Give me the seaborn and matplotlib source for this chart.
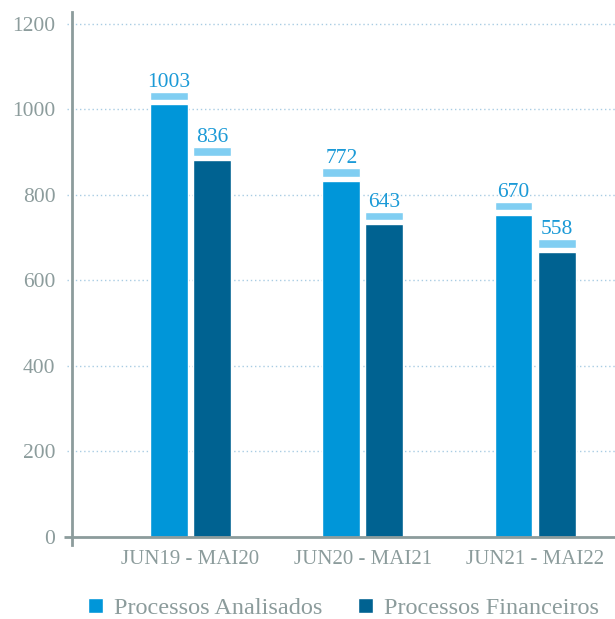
import matplotlib
matplotlib.use("Agg")
import matplotlib.pyplot as plt
import matplotlib.patches as mpatches
import seaborn as sns
import pandas as pd
import numpy as np

# ---- data ----
periodos = ["JUN19 - MAI20", "JUN20 - MAI21", "JUN21 - MAI22"]
series = ["Processos Analisados", "Processos Financeiros"]
# bar heights as drawn in the picture
analisados_barra = [1013, 833, 754]
financeiros_barra = [882, 732, 667]
# value labels printed above the bars
analisados_rotulo = [1003, 772, 670]
financeiros_rotulo = [836, 643, 558]
yticks = [0, 200, 400, 600, 800, 1000, 1200]

# ---- style ----
sns.set_theme(style="white")
plt.rcParams["font.family"] = ["Liberation Serif", "DejaVu Serif"]
cor_clara = "#0096D9"
cor_escura = "#006291"
cor_topo = "#80CEF2"
cor_texto = "#8C9C9C"
cor_rotulo = "#1B9AD7"
cor_grade = "#A9CCE3"

df = pd.DataFrame({
    "periodo": periodos * 2,
    "serie": [series[0]] * 3 + [series[1]] * 3,
    "valor": analisados_barra + financeiros_barra,
})
rotulos = {series[0]: analisados_rotulo, series[1]: financeiros_rotulo}

fig = plt.figure(figsize=(6.15, 6.19), dpi=100)
ax = fig.add_axes([72 / 615, 74 / 619, 543 / 615, 533 / 619])

sns.barplot(data=df, x="periodo", y="valor", hue="serie", hue_order=series,
            palette=[cor_clara, cor_escura], saturation=1, width=0.5, gap=0.12,
            legend=False, ax=ax, zorder=2)

cap_gap = 10
cap_h = 19
for cont, serie in zip(ax.containers, series):
    for p, lab in zip(cont.patches, rotulos[serie]):
        base = p.get_height() + cap_gap
        ax.bar(p.get_x(), cap_h, bottom=base, width=p.get_width(), align="edge",
               color=cor_topo, zorder=2)
        ax.annotate(str(lab), (p.get_x() + p.get_width() / 2, base + cap_h),
                    xytext=(0, 3.6), textcoords="offset points",
                    ha="center", va="baseline", fontsize=15.5, color=cor_rotulo)

ax.set_xlim(-0.688, 2.464)
ax.set_ylim(-19, 1228)
ax.set_yticks(yticks)
ax.set_xlabel("")
ax.set_ylabel("")

for s in ["top", "right", "bottom"]:
    ax.spines[s].set_visible(False)
ax.spines["left"].set_color(cor_texto)
ax.spines["left"].set_linewidth(2)

# dotted grid
ax.hlines(yticks[1:], -5 / 543, 1, transform=ax.get_yaxis_transform(),
          colors=cor_grade, linestyles=(0, (1, 2)), linewidth=1, clip_on=False, zorder=1)
# zero line
ax.hlines([0], -8 / 543, 1, transform=ax.get_yaxis_transform(),
          colors=cor_texto, linewidth=2, clip_on=False, zorder=3)

ax.tick_params(axis="y", length=0, pad=12, labelsize=15.5, labelcolor=cor_texto)
ax.tick_params(axis="x", length=0, pad=3.5, labelsize=15, labelcolor=cor_texto)

handles = [mpatches.Patch(facecolor=c, label=s) for c, s in zip([cor_clara, cor_escura], series)]
fig.legend(handles=handles, loc="lower center", bbox_to_anchor=((72 + 543 / 2) / 615, 0.0),
           ncol=2, frameon=False, fontsize=17.5, labelcolor=cor_texto,
           handlelength=0.62, handleheight=0.62, handletextpad=0.45,
           columnspacing=1.5, borderpad=0, borderaxespad=0)

fig.savefig("out.png", dpi=100)
